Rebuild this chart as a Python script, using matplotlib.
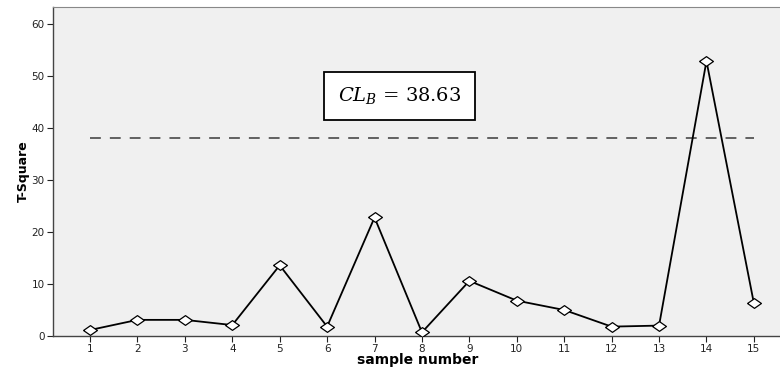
import numpy as np
import matplotlib
matplotlib.use('Agg')
from matplotlib import pyplot as plt

plt.rcParams['mathtext.fontset'] = 'dejavuserif'

samples = list(range(1, 16))
t_square = [1.15, 3.1, 3.1, 2.1, 13.6, 1.8, 22.8, 0.7, 10.6, 6.8, 5.0, 1.8, 2.0, 52.9, 6.3]
cl_b = 38.0
cl_text = r'$CL_B$ = 38.63'

fig = plt.figure(figsize=(7.8, 3.68), dpi=100)
ax = fig.add_axes([0.068, 0.087, 0.935, 0.894])
ax.set_facecolor('#f0f0f0')

# flattened diamond like SPSS
diamond = [(-1, 0), (0, 0.7), (1, 0), (0, -0.7), (-1, 0)]
ax.plot(samples, t_square, color='black', lw=1.3, marker=diamond, ms=10,
        mfc='white', mec='black', mew=0.9, zorder=3)
ax.plot([samples[0], samples[-1]], [cl_b, cl_b], color='#555555', lw=1.3,
        dashes=(6, 5), zorder=2)

ax.text(7.53, 46.2, cl_text, fontsize=14, family='DejaVu Serif',
        ha='center', va='center',
        bbox=dict(boxstyle='square,pad=0.7', fc='white', ec='black', lw=1.3))

ax.set_xlim(0.22, 15.6)
ax.set_ylim(0, 63.3)
ax.set_xticks(samples)
ax.set_yticks([0, 10, 20, 30, 40, 50, 60])
ax.tick_params(labelsize=7.5, colors='#222222', length=4, width=0.8, pad=2)
ax.set_xlabel('sample number', fontsize=10, fontweight='bold', labelpad=-1)
ax.set_ylabel('T-Square', fontsize=9, fontweight='bold', family='Liberation Sans Narrow', labelpad=1)

for s in ['left', 'bottom']:
    ax.spines[s].set_color('#444444')
    ax.spines[s].set_linewidth(1.0)
ax.spines['top'].set_color('#888888')
ax.spines['right'].set_visible(False)

fig.savefig('out.png', dpi=100)
